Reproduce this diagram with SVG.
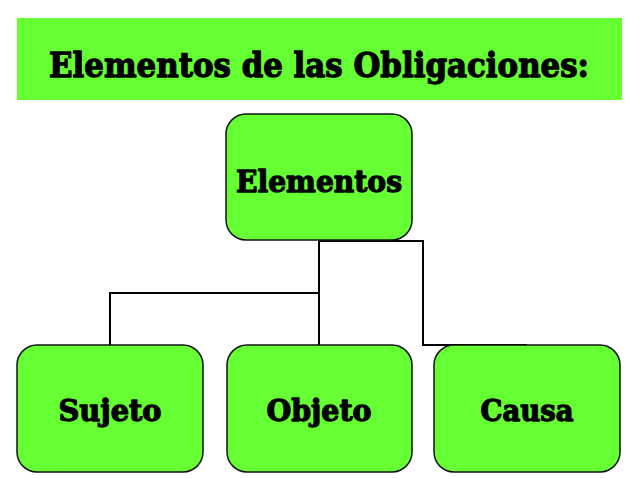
<svg xmlns="http://www.w3.org/2000/svg" width="638" height="479" viewBox="0 0 638 479">
<style>
.box{fill:#66ff33;stroke:#111;stroke-width:1.5}
.t{font-family:"DejaVu Serif","Liberation Serif",serif;font-weight:bold;fill:#000;stroke:#000;stroke-width:1.3;stroke-linejoin:round;text-anchor:middle}
.c{fill:none;stroke:#000;stroke-width:2}
</style>
<rect width="638" height="479" fill="#fff"/>
<g id="title">
<rect x="17" y="18" width="605" height="82" fill="#66ff33"/>
<text class="t" x="319" y="77" font-size="33" textLength="540" lengthAdjust="spacingAndGlyphs">Elementos de las Obligaciones:</text>
</g>
<g id="connectors">
<polyline class="c" points="319,240 319,345"/>
<polyline class="c" points="110,345 110,293 319,293"/>
<polyline class="c" points="319,241 423,241 423,345 527,345"/>
</g>
<g id="elementos">
<rect class="box" x="226" y="114" width="186" height="126" rx="20"/>
<text class="t" x="319" y="192" font-size="30" textLength="166" lengthAdjust="spacingAndGlyphs">Elementos</text>
</g>
<g id="sujeto">
<rect class="box" x="17" y="345" width="186" height="127" rx="20"/>
<text class="t" x="110" y="421" font-size="30" textLength="103" lengthAdjust="spacingAndGlyphs">Sujeto</text>
</g>
<g id="objeto">
<rect class="box" x="227" y="345" width="185" height="127" rx="20"/>
<text class="t" x="319" y="421" font-size="30" textLength="105" lengthAdjust="spacingAndGlyphs">Objeto</text>
</g>
<g id="causa">
<rect class="box" x="434" y="345" width="186" height="127" rx="20"/>
<text class="t" x="527" y="421" font-size="30" textLength="93" lengthAdjust="spacingAndGlyphs">Causa</text>
</g>
</svg>
